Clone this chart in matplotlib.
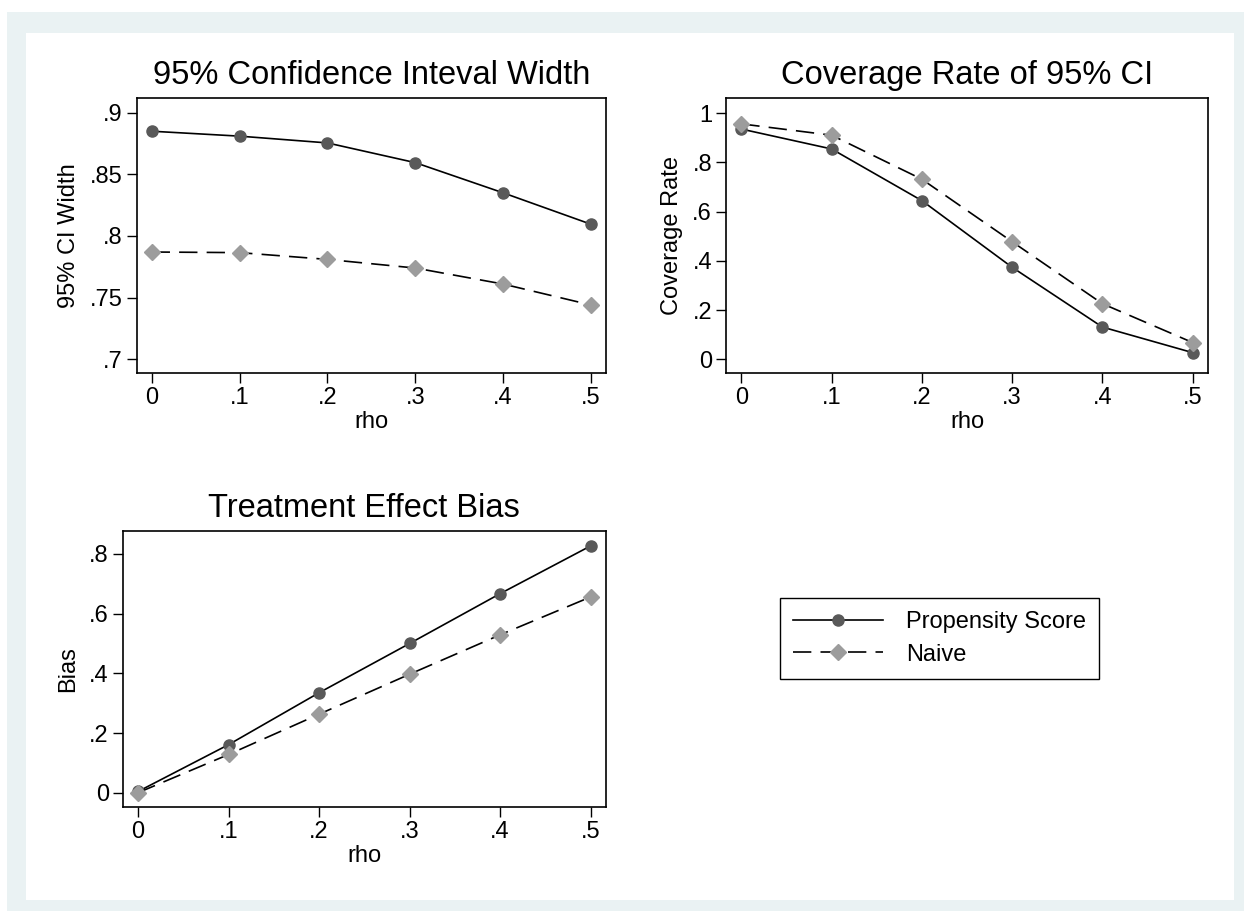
import matplotlib
matplotlib.use("Agg")
import matplotlib.pyplot as plt
from matplotlib.patches import Rectangle
from matplotlib.lines import Line2D

plt.rcParams['font.family'] = ['Liberation Sans', 'DejaVu Sans']

# data
rho = [0, 0.1, 0.2, 0.3, 0.4, 0.5]
rho_labels = ["0", ".1", ".2", ".3", ".4", ".5"]

ciw_ps = [0.885, 0.881, 0.8755, 0.8595, 0.835, 0.8095]
ciw_naive = [0.787, 0.7865, 0.781, 0.774, 0.761, 0.744]

cov_ps = [0.936, 0.855, 0.645, 0.374, 0.131, 0.027]
cov_naive = [0.957, 0.911, 0.732, 0.478, 0.226, 0.068]

bias_ps = [0.004, 0.161, 0.335, 0.5, 0.667, 0.827]
bias_naive = [0.0, 0.128, 0.263, 0.397, 0.529, 0.656]

ciw_ticks = [0.7, 0.75, 0.8, 0.85, 0.9]
ciw_ticklabels = [".7", ".75", ".8", ".85", ".9"]
cov_ticks = [0, 0.2, 0.4, 0.6, 0.8, 1]
cov_ticklabels = ["0", ".2", ".4", ".6", ".8", "1"]
bias_ticks = [0, 0.2, 0.4, 0.6, 0.8]
bias_ticklabels = ["0", ".2", ".4", ".6", ".8"]

W, H = 1244, 911
fig = plt.figure(figsize=(W / 100, H / 100), dpi=100, facecolor="white")

# stata style background: bluish gray frame with white plot region
fig.patches.append(Rectangle((7 / W, 0), (W - 7) / W, (H - 12) / H,
                             transform=fig.transFigure, facecolor="#eaf2f3",
                             edgecolor="none", zorder=-2))
fig.patches.append(Rectangle((26 / W, (H - 900) / H), 1208 / W, 867 / H,
                             transform=fig.transFigure, facecolor="white",
                             edgecolor="none", zorder=-1))


def px_axes(left, top, right, bottom):
    return fig.add_axes([left / W, 1 - bottom / H, (right - left) / W, (bottom - top) / H])


ps_style = dict(color="black", lw=1.2, marker="o", markersize=8,
                markerfacecolor="#595959", markeredgecolor="#595959", zorder=3)
nv_style = dict(color="black", lw=1.2, dashes=(11, 5.5), marker="D", markersize=8,
                markerfacecolor="#9c9c9c", markeredgecolor="#9c9c9c", zorder=3)


def setup(ax, title, ylabel, yticks, yticklabels, ylim):
    ax.set_xlim(-0.017, 0.517)
    ax.set_ylim(*ylim)
    ax.set_xticks(rho)
    ax.set_xticklabels(rho_labels)
    ax.set_yticks(yticks)
    ax.set_yticklabels(yticklabels)
    ax.tick_params(direction="out", length=7, width=1, labelsize=17, pad=3)
    for s in ax.spines.values():
        s.set_linewidth(1.2)
    ax.set_title(title, fontsize=23.5, pad=10)
    ax.set_xlabel("rho", fontsize=17, labelpad=1)
    ax.set_ylabel(ylabel, fontsize=17, labelpad=7)


ax1 = px_axes(136.7, 98.3, 606, 373.3)
ax1.plot(rho, ciw_ps, **ps_style)
ax1.plot(rho, ciw_naive, **nv_style)
setup(ax1, "95% Confidence Inteval Width", "95% CI Width",
      ciw_ticks, ciw_ticklabels, (0.6886, 0.9117))

ax2 = px_axes(726, 98.3, 1208, 373.3)
ax2.plot(rho, cov_ps, **ps_style)
ax2.plot(rho, cov_naive, **nv_style)
setup(ax2, "Coverage Rate of 95% CI", "Coverage Rate",
      cov_ticks, cov_ticklabels, (-0.057, 1.061))

ax3 = px_axes(122.7, 531.3, 606, 807.3)
ax3.plot(rho, bias_ps, **ps_style)
ax3.plot(rho, bias_naive, **nv_style)
setup(ax3, "Treatment Effect Bias", "Bias",
      bias_ticks, bias_ticklabels, (-0.049, 0.876))

handles = [Line2D([], [], **ps_style), Line2D([], [], **nv_style)]
leg = fig.legend(handles, ["Propensity Score", "Naive"],
                 loc="upper left", bbox_to_anchor=(780 / W, 1 - 598 / H),
                 borderaxespad=0, fontsize=17, numpoints=1, handlelength=3.8,
                 handletextpad=1.0, borderpad=0.55, labelspacing=0.45,
                 fancybox=False, framealpha=1, edgecolor="black")
leg.get_frame().set_linewidth(1.0)

fig.savefig("out.png", dpi=100, facecolor=fig.get_facecolor())
